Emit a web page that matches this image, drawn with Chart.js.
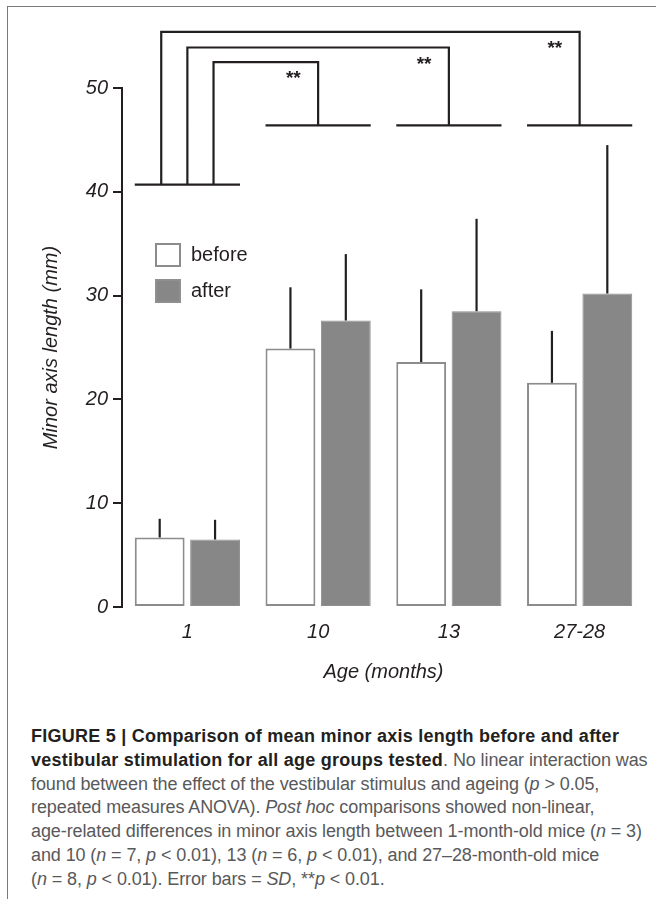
<!DOCTYPE html>
<html>
<head>
<meta charset="utf-8">
<script src="https://cdn.jsdelivr.net/npm/chart.js@4.4.1/dist/chart.umd.min.js"></script>
<style>
html, body { margin: 0; padding: 0; background: #fff; }
body { width: 656px; height: 899px; position: relative; overflow: hidden; }
#frame { position: absolute; left: 7px; top: 6px; width: 700px; height: 1000px;
  border-left: 1.5px solid #7a7a7a; border-top: 1.5px solid #7a7a7a; }
#plot { position: absolute; left: 0; top: 0; }
#caption { position: absolute; left: 31px; top: 725px; white-space: nowrap;
  font-family: "Liberation Sans Narrow", "Liberation Sans", Arial, sans-serif;
  font-size: 18px; line-height: 23.8px; color: #58595b; letter-spacing: -0.1px; }
#caption b { color: #231f20; letter-spacing: 0.25px; }
</style>
</head>
<body>
<div id="frame"></div>
<canvas id="plot" width="656" height="700"></canvas>
<div id="caption">
<b>FIGURE 5 | Comparison of mean minor axis length before and after</b><br>
<b>vestibular stimulation for all age groups tested</b>. No linear interaction was<br>
found between the effect of the vestibular stimulus and ageing (<i>p</i> &gt; 0.05,<br>
repeated measures ANOVA). <i>Post hoc</i> comparisons showed non-linear,<br>
age-related differences in minor axis length between 1-month-old mice (<i>n</i> = 3)<br>
and 10 (<i>n</i> = 7, <i>p</i> &lt; 0.01), 13 (<i>n</i> = 6, <i>p</i> &lt; 0.01), and 27–28-month-old mice<br>
(<i>n</i> = 8, <i>p</i> &lt; 0.01). Error bars = <i>SD</i>, **<i>p</i> &lt; 0.01.
</div>
<script>
// data
const ages = ['1', '10', '13', '27-28'];
const beforeMean = [6.7, 24.9, 23.6, 21.6];
const afterMean = [6.5, 27.6, 28.5, 30.2];
const beforeSD = [1.8, 5.9, 7.0, 5.0];
const afterSD = [1.9, 6.4, 8.9, 14.3];
const yTicks = [0, 10, 20, 30, 40, 50];

// significance: 1 month vs the other groups
const sigTo = [1, 2, 3];
const sigMark = ['**', '**', '**'];
const sigFromOffset = [0.2, 0, -0.2];   // where each bracket leaves group 1 (category units)
const sigTop = [52.5, 53.9, 55.4];
const sigBase = [40.7, 46.4];           // group 1 line, other groups' line

const ink = '#231f20';
const fam = '"Liberation Sans", Arial, Helvetica, sans-serif';

const extras = {
    id: 'extras',
    afterDraw: function (chart) {
        var ctx = chart.ctx;
        var x = chart.scales.x, y = chart.scales.y;
        var m0 = chart.getDatasetMeta(0), m1 = chart.getDatasetMeta(1);
        ctx.save();
        ctx.strokeStyle = ink;
        ctx.lineWidth = 2.2;
        ctx.lineCap = 'butt';

        // error bars (upper side only)
        [[m0, beforeMean, beforeSD], [m1, afterMean, afterSD]].forEach(function (s) {
            s[0].data.forEach(function (bar, i) {
                ctx.beginPath();
                ctx.moveTo(bar.x, y.getPixelForValue(s[1][i]));
                ctx.lineTo(bar.x, y.getPixelForValue(s[1][i] + s[2][i]));
                ctx.stroke();
            });
        });

        // horizontal lines over each group
        function groupLine(i, v) {
            var a = m0.data[i], b = m1.data[i];
            var py = y.getPixelForValue(v);
            ctx.beginPath();
            ctx.moveTo(a.x - a.width / 2, py);
            ctx.lineTo(b.x + b.width / 2, py);
            ctx.stroke();
        }
        groupLine(0, sigBase[0]);
        sigTo.forEach(function (g) { groupLine(g, sigBase[1]); });

        // brackets
        ctx.fillStyle = ink;
        ctx.font = 'bold 19px ' + fam;
        ctx.textAlign = 'center';
        ctx.textBaseline = 'alphabetic';
        sigTo.forEach(function (g, k) {
            var x0 = x.getPixelForValue(sigFromOffset[k]);
            var x1 = x.getPixelForValue(g);
            var yt = y.getPixelForValue(sigTop[k]);
            ctx.beginPath();
            ctx.moveTo(x0, y.getPixelForValue(sigBase[0]));
            ctx.lineTo(x0, yt);
            ctx.lineTo(x1, yt);
            ctx.lineTo(x1, y.getPixelForValue(sigBase[1]));
            ctx.stroke();
            ctx.fillText(sigMark[k], x.getPixelForValue(g - 0.19), yt + 22);
        });

        // legend inside the plot
        var lx = chart.chartArea.left + 33;
        var ly = chart.chartArea.top + 155;
        ctx.font = '20px ' + fam;
        ctx.textAlign = 'left';
        ctx.textBaseline = 'middle';
        chart.data.datasets.forEach(function (ds, k) {
            var by = ly + k * 36;
            ctx.fillStyle = ds.backgroundColor;
            ctx.fillRect(lx, by, 26, 24);
            ctx.strokeStyle = ds.borderColor;
            ctx.lineWidth = 2;
            ctx.strokeRect(lx + 1, by + 1, 24, 22);
            ctx.fillStyle = ink;
            ctx.fillText(ds.label, lx + 36, by + 12);
        });
        ctx.restore();
    }
};

new Chart(document.getElementById('plot').getContext('2d'), {
    type: 'bar',
    data: {
        labels: ages,
        datasets: [
            { label: 'before', data: beforeMean, backgroundColor: '#ffffff', borderColor: '#8c8c8c', borderWidth: 2, borderSkipped: false },
            { label: 'after', data: afterMean, backgroundColor: '#878787', borderColor: '#8f8f8f', borderWidth: 1, borderSkipped: false }
        ]
    },
    options: {
        responsive: false,
        animation: false,
        barPercentage: 0.9,
        categoryPercentage: 0.847,
        layout: { padding: { top: 88, right: 11, left: 0, bottom: 0 } },
        plugins: { legend: { display: false }, tooltip: { enabled: false } },
        scales: {
            x: {
                grid: { display: false, drawTicks: false },
                border: { display: false },
                ticks: { color: ink, padding: 13, font: { family: fam, size: 20, style: 'italic' } },
                title: { display: true, text: 'Age (months)', color: ink,
                    font: { family: fam, size: 20, style: 'italic' }, padding: { top: 0, bottom: 16 } },
                afterFit: function (s) { s.height = 93; }
            },
            y: {
                min: 0, max: 50,
                afterBuildTicks: function (s) { s.ticks = yTicks.map(function (v) { return { value: v }; }); },
                grid: { drawOnChartArea: false, color: ink, lineWidth: 2, tickLength: 9 },
                border: { color: ink, width: 2 },
                ticks: { color: ink, padding: 5, font: { family: fam, size: 20, style: 'italic' } },
                title: { display: true, text: 'Minor axis length (mm)', color: ink,
                    font: { family: fam, size: 20, style: 'italic' }, padding: { top: 39, bottom: 0 } },
                afterFit: function (s) { s.width = 122; }
            }
        }
    },
    plugins: [extras]
});
</script>
</body>
</html>
